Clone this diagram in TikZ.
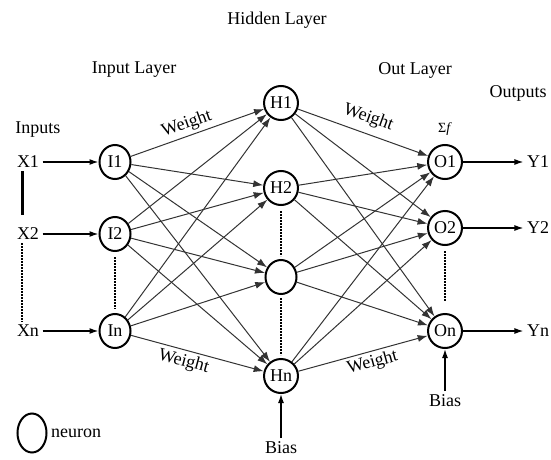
\documentclass[tikz,border=0pt]{standalone}
\usepackage{fontspec}
\setmainfont{Liberation Serif}
\usetikzlibrary{arrows.meta}
\usetikzlibrary{positioning}
\usetikzlibrary{shapes.geometric}

\begin{document}
\begin{tikzpicture}[font=\fontsize{18}{20}\selectfont,
  neuron/.style={draw, ellipse, line width=2pt, minimum width=31pt, minimum height=34pt, inner sep=1pt},
  wire/.style={line width=1pt, draw=black!80, -{Latex[length=10pt,width=7pt]}},
  feed/.style={line width=1.4pt, -{Latex[length=9pt,width=6pt]}},
  gap/.style={line width=2.6pt, dash pattern=on 2pt off 1pt}]
\useasboundingbox (0,0) rectangle (551pt,-460pt);

% titles
\node (hidden title) at (277pt,-20pt) {Hidden Layer};
\node (input title) at (134pt,-70pt) {Input Layer};
\node (out title) at (415pt,-70pt) {Out Layer};
\node (outputs title) at (518pt,-93pt) {Outputs};
\node (inputs title) at (38pt,-130pt) {Inputs};

% inputs
\node (X1) at (28pt,-162pt) {X1};
\node (X2) at (28pt,-234pt) {X2};
\node (Xn) at (28pt,-331pt) {Xn};

% input layer
\node (I1) [neuron] at (115pt,-162pt) {I1};
\node (I2) [neuron] at (115pt,-234pt) {I2};
\node (In) [neuron] at (115pt,-331pt) {In};

% hidden layer
\node (H1) [neuron] at (281pt,-103pt) {H1};
\node (H2) [neuron] at (281pt,-188pt) {H2};
\node (Hb) [neuron] at (281pt,-277pt) {};
\node (Hn) [neuron] at (281pt,-376pt) {Hn};

% output layer
\node (O1) [neuron] at (445pt,-162pt) {O1};
\node (O2) [neuron] at (445pt,-228pt) {O2};
\node (On) [neuron] at (445pt,-331pt) {On};
\node (sum) [above=5pt of O1, font=\fontsize{14}{14}\selectfont] {Σ\textit{f}};

% outputs
\node (Y1) at (538pt,-162pt) {Y1};
\node (Y2) at (538pt,-228pt) {Y2};
\node (Yn) at (538pt,-331pt) {Yn};

% bias
\node (bias hidden) [below=44pt of Hn] {Bias};
\node (bias out) [below=42pt of On] {Bias};

% legend
\node (legend) [neuron, minimum width=29pt, minimum height=39pt] at (32pt,-433pt) {};
\node (legend text) [right=0pt of legend] {neuron};

\draw [line width=3pt, shorten >=10pt] ([xshift=-6pt]X1.south) -- ([xshift=-6pt]X2.north);
\draw [gap] ([xshift=-6pt]X2.south) -- ([xshift=-6pt]Xn.north);
\draw [gap, shorten <=5pt, shorten >=4pt] (I2) -- (In);
\draw [gap, shorten <=5pt, shorten >=3pt] (H2) -- (Hb);
\draw [gap, shorten <=3pt, shorten >=3pt] (Hb) -- (Hn);
\draw [gap, shorten <=5pt, shorten >=12pt] (O2) -- (On);

\draw [feed] (X1) -- (I1);
\draw [feed] (X2) -- (I2);
\draw [feed] (Xn) -- (In);

\foreach \i in {I1,I2,In}
  \foreach \h in {H1,H2,Hb,Hn}
    \draw [wire] (\i) -- (\h);
\foreach \h in {H1,H2,Hb,Hn}
  \foreach \o in {O1,O2,On}
    \draw [wire] (\h) -- (\o);

\draw [feed] (O1) -- (Y1);
\draw [feed] (O2) -- (Y2);
\draw [feed] (On) -- (Yn);
\draw [feed] (bias hidden) -- (Hn);
\draw [feed] (bias out) -- (On);

\path (I1) -- node [sloped, above, pos=0.45] {Weight} (H1);
\path (In) -- node [sloped, below, pos=0.42] {Weight} (Hn);
\path (H1) -- node [sloped, above=4pt, pos=0.5] {Weight} (O1);
\path (Hn) -- node [sloped, below, pos=0.55] {Weight} (On);

\end{tikzpicture}
\end{document}
